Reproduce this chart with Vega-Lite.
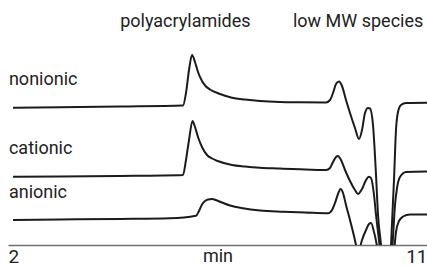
{
  "$schema": "https://vega.github.io/schema/vega-lite/v6.json",
  "width": 419,
  "height": 245,
  "autosize": {"type": "none"},
  "padding": {"left": 8, "top": 0, "right": 0, "bottom": 22},
  "background": "white",
  "config": {"view": {"stroke": null}, "font": "Roboto"},
  "datasets": {
    "traces": [
      {"series": "nonionic", "t": 2.107, "v": 137.3},
      {"series": "nonionic", "t": 3.117, "v": 137.7},
      {"series": "nonionic", "t": 4.406, "v": 138.5},
      {"series": "nonionic", "t": 5.759, "v": 139.5},
      {"series": "nonionic", "t": 5.823, "v": 152},
      {"series": "nonionic", "t": 5.888, "v": 175},
      {"series": "nonionic", "t": 5.952, "v": 190},
      {"series": "nonionic", "t": 6.017, "v": 183},
      {"series": "nonionic", "t": 6.081, "v": 173},
      {"series": "nonionic", "t": 6.167, "v": 164},
      {"series": "nonionic", "t": 6.253, "v": 158.5},
      {"series": "nonionic", "t": 6.339, "v": 155.5},
      {"series": "nonionic", "t": 6.554, "v": 151},
      {"series": "nonionic", "t": 6.812, "v": 147.3},
      {"series": "nonionic", "t": 7.091, "v": 145.5},
      {"series": "nonionic", "t": 7.413, "v": 144},
      {"series": "nonionic", "t": 7.843, "v": 143},
      {"series": "nonionic", "t": 8.272, "v": 142.7},
      {"series": "nonionic", "t": 8.831, "v": 142.5},
      {"series": "nonionic", "t": 8.917, "v": 145},
      {"series": "nonionic", "t": 8.981, "v": 152},
      {"series": "nonionic", "t": 9.045, "v": 161},
      {"series": "nonionic", "t": 9.110, "v": 163.5},
      {"series": "nonionic", "t": 9.174, "v": 159},
      {"series": "nonionic", "t": 9.260, "v": 145},
      {"series": "nonionic", "t": 9.346, "v": 132},
      {"series": "nonionic", "t": 9.453, "v": 117},
      {"series": "nonionic", "t": 9.539, "v": 106},
      {"series": "nonionic", "t": 9.604, "v": 115},
      {"series": "nonionic", "t": 9.668, "v": 132},
      {"series": "nonionic", "t": 9.733, "v": 137},
      {"series": "nonionic", "t": 9.776, "v": 136.5},
      {"series": "nonionic", "t": 9.840, "v": 120},
      {"series": "nonionic", "t": 9.905, "v": 70},
      {"series": "nonionic", "t": 9.948, "v": 30},
      {"series": "nonionic", "t": 10.012, "v": 0},
      {"series": "nonionic", "t": 10.119, "v": -75},
      {"series": "nonionic", "t": 10.227, "v": 0},
      {"series": "nonionic", "t": 10.291, "v": 65},
      {"series": "nonionic", "t": 10.334, "v": 115},
      {"series": "nonionic", "t": 10.377, "v": 133},
      {"series": "nonionic", "t": 10.442, "v": 140},
      {"series": "nonionic", "t": 10.549, "v": 142},
      {"series": "nonionic", "t": 11.0, "v": 142.3},
      {"series": "cationic", "t": 2.107, "v": 68.3},
      {"series": "cationic", "t": 3.117, "v": 68.5},
      {"series": "cationic", "t": 4.406, "v": 69},
      {"series": "cationic", "t": 5.759, "v": 70},
      {"series": "cationic", "t": 5.823, "v": 85},
      {"series": "cationic", "t": 5.888, "v": 105},
      {"series": "cationic", "t": 5.963, "v": 124},
      {"series": "cationic", "t": 6.017, "v": 118},
      {"series": "cationic", "t": 6.081, "v": 108},
      {"series": "cationic", "t": 6.167, "v": 98},
      {"series": "cationic", "t": 6.275, "v": 90},
      {"series": "cationic", "t": 6.382, "v": 86.5},
      {"series": "cationic", "t": 6.489, "v": 84.3},
      {"series": "cationic", "t": 6.812, "v": 80},
      {"series": "cationic", "t": 7.091, "v": 78.5},
      {"series": "cationic", "t": 7.413, "v": 77.3},
      {"series": "cationic", "t": 7.843, "v": 76.5},
      {"series": "cationic", "t": 8.272, "v": 75.7},
      {"series": "cationic", "t": 8.831, "v": 75},
      {"series": "cationic", "t": 8.917, "v": 77},
      {"series": "cationic", "t": 8.981, "v": 83},
      {"series": "cationic", "t": 9.045, "v": 88},
      {"series": "cationic", "t": 9.088, "v": 89},
      {"series": "cationic", "t": 9.153, "v": 85},
      {"series": "cationic", "t": 9.239, "v": 75},
      {"series": "cationic", "t": 9.346, "v": 64},
      {"series": "cationic", "t": 9.453, "v": 55},
      {"series": "cationic", "t": 9.518, "v": 51},
      {"series": "cationic", "t": 9.604, "v": 56},
      {"series": "cationic", "t": 9.690, "v": 65},
      {"series": "cationic", "t": 9.754, "v": 68.3},
      {"series": "cationic", "t": 9.797, "v": 67},
      {"series": "cationic", "t": 9.862, "v": 50},
      {"series": "cationic", "t": 9.905, "v": 30},
      {"series": "cationic", "t": 9.980, "v": 0},
      {"series": "cationic", "t": 10.119, "v": -75},
      {"series": "cationic", "t": 10.259, "v": 0},
      {"series": "cationic", "t": 10.313, "v": 40},
      {"series": "cationic", "t": 10.356, "v": 57},
      {"series": "cationic", "t": 10.420, "v": 68},
      {"series": "cationic", "t": 10.549, "v": 73},
      {"series": "cationic", "t": 11.0, "v": 73.5},
      {"series": "anionic", "t": 2.107, "v": 25},
      {"series": "anionic", "t": 3.117, "v": 25.5},
      {"series": "anionic", "t": 4.406, "v": 26},
      {"series": "anionic", "t": 5.480, "v": 26.7},
      {"series": "anionic", "t": 6.038, "v": 29.3},
      {"series": "anionic", "t": 6.103, "v": 34},
      {"series": "anionic", "t": 6.167, "v": 40.5},
      {"series": "anionic", "t": 6.232, "v": 44},
      {"series": "anionic", "t": 6.296, "v": 45.5},
      {"series": "anionic", "t": 6.382, "v": 46},
      {"series": "anionic", "t": 6.489, "v": 44.5},
      {"series": "anionic", "t": 6.597, "v": 42.5},
      {"series": "anionic", "t": 6.769, "v": 39.5},
      {"series": "anionic", "t": 7.048, "v": 36.7},
      {"series": "anionic", "t": 7.413, "v": 34.5},
      {"series": "anionic", "t": 7.907, "v": 33.3},
      {"series": "anionic", "t": 8.380, "v": 32.5},
      {"series": "anionic", "t": 8.874, "v": 31.7},
      {"series": "anionic", "t": 8.960, "v": 35},
      {"series": "anionic", "t": 9.024, "v": 42},
      {"series": "anionic", "t": 9.088, "v": 51},
      {"series": "anionic", "t": 9.146, "v": 56},
      {"series": "anionic", "t": 9.196, "v": 52},
      {"series": "anionic", "t": 9.260, "v": 40},
      {"series": "anionic", "t": 9.346, "v": 25},
      {"series": "anionic", "t": 9.432, "v": 9},
      {"series": "anionic", "t": 9.496, "v": -3},
      {"series": "anionic", "t": 9.539, "v": -5},
      {"series": "anionic", "t": 9.604, "v": 5},
      {"series": "anionic", "t": 9.690, "v": 15},
      {"series": "anionic", "t": 9.754, "v": 21},
      {"series": "anionic", "t": 9.797, "v": 22},
      {"series": "anionic", "t": 9.862, "v": 13},
      {"series": "anionic", "t": 9.948, "v": -7},
      {"series": "anionic", "t": 10.119, "v": -75},
      {"series": "anionic", "t": 10.291, "v": -7},
      {"series": "anionic", "t": 10.334, "v": 13},
      {"series": "anionic", "t": 10.399, "v": 24},
      {"series": "anionic", "t": 10.485, "v": 28.5},
      {"series": "anionic", "t": 10.635, "v": 30.5},
      {"series": "anionic", "t": 11.0, "v": 30.5}
    ],
    "names": [
      {"label": "nonionic", "t": 2.02, "v": 160},
      {"label": "cationic", "t": 2.02, "v": 91},
      {"label": "anionic", "t": 2.02, "v": 47}
    ],
    "regions": [
      {"label": "polyacrylamides", "t": 5.81, "v": 218},
      {"label": "low MW species", "t": 9.52, "v": 218}
    ]
  },
  "layer": [
    {
      "data": {"name": "traces"},
      "mark": {"type": "line", "interpolate": "monotone", "clip": true, "color": "#1b1b1b", "strokeWidth": 2},
      "encoding": {
        "x": {
          "field": "t", "type": "quantitative",
          "scale": {"domain": [2, 11], "nice": false, "zero": false},
          "axis": {
            "title": "min", "values": [2, 11], "ticks": false, "tickSize": 0, "grid": false,
            "labelFlush": true, "labelFontSize": 19, "labelPadding": 17, "labelBaseline": "alphabetic",
            "labelColor": "#222222", "domainColor": "#707070", "domainWidth": 1.5,
            "titleFontSize": 18, "titleFontWeight": "normal", "titleColor": "#222222",
            "titleY": 16, "titleBaseline": "alphabetic"
          }
        },
        "y": {
          "field": "v", "type": "quantitative",
          "scale": {"domain": [0, 245], "nice": false, "zero": false},
          "axis": null
        },
        "detail": {"field": "series"}
      }
    },
    {
      "data": {"name": "names"},
      "mark": {"type": "text", "align": "left", "baseline": "alphabetic", "fontSize": 18, "color": "#222222"},
      "encoding": {
        "x": {"field": "t", "type": "quantitative"},
        "y": {"field": "v", "type": "quantitative"},
        "text": {"field": "label"}
      }
    },
    {
      "data": {"name": "regions"},
      "mark": {"type": "text", "align": "center", "baseline": "alphabetic", "fontSize": 18, "color": "#222222"},
      "encoding": {
        "x": {"field": "t", "type": "quantitative"},
        "y": {"field": "v", "type": "quantitative"},
        "text": {"field": "label"}
      }
    }
  ]
}
